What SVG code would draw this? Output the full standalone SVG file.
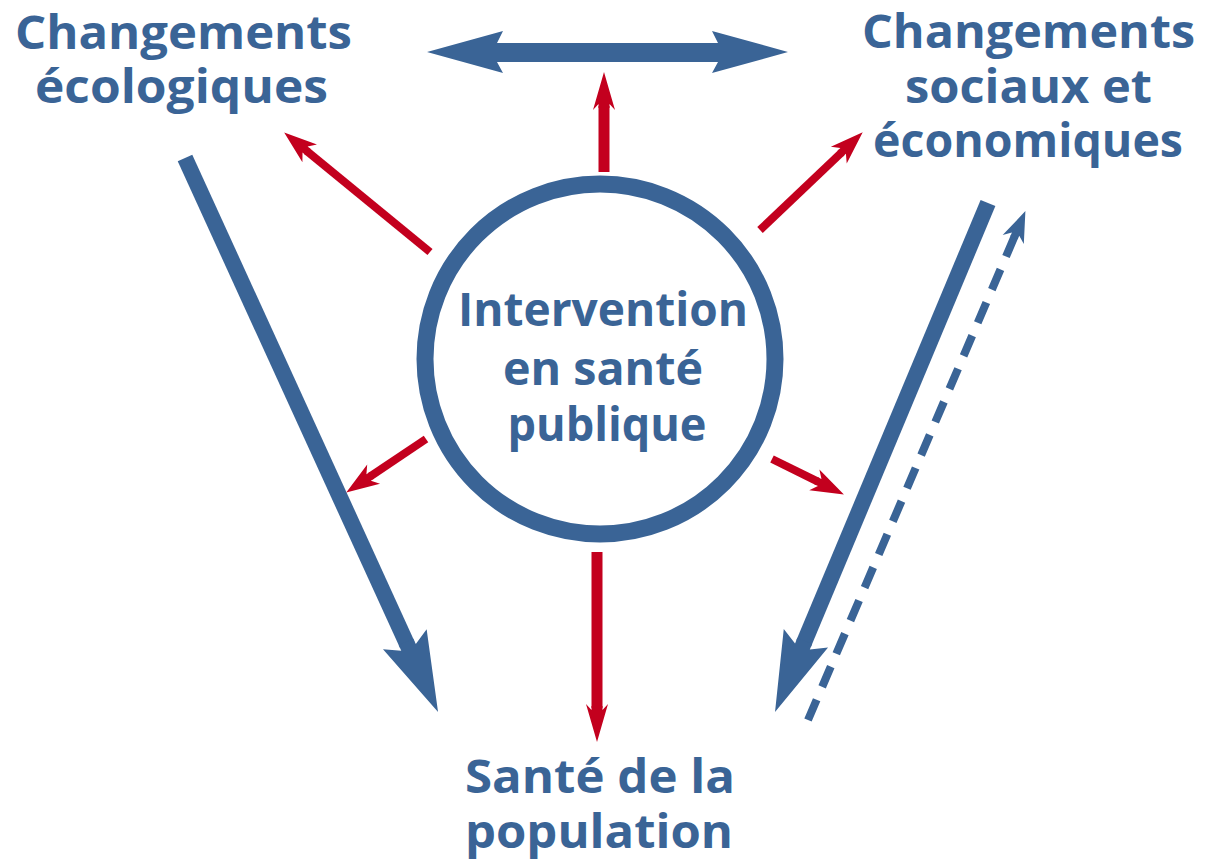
<svg xmlns="http://www.w3.org/2000/svg" width="1217" height="867" viewBox="0 0 1217 867">
  <style>
    .lbl { font-family: "Open Sans", "Noto Sans", "Liberation Sans", sans-serif; font-weight: 700; font-size: 46px; fill: #3A6496; text-anchor: middle; }
    .red { stroke: #C3001E; fill: none; stroke-linecap: butt; }
    .blue { stroke: #3A6496; fill: none; stroke-linecap: butt; }
  </style>
  <defs>
    <marker id="rh" markerUnits="userSpaceOnUse" markerWidth="60" markerHeight="40" viewBox="-10 -20 60 40" refX="0" refY="0" orient="auto">
      <path d="M29,0 L-4,-11.5 L2,-4 L-2,-4 L-2,4 L2,4 L-4,11.5 Z" fill="#C3001E"/>
    </marker>
    <marker id="rh2" markerUnits="userSpaceOnUse" markerWidth="60" markerHeight="40" viewBox="-10 -20 60 40" refX="0" refY="0" orient="auto">
      <path d="M34,0 L-4,-11 L2,-5.5 L-2,-5.5 L-2,5.5 L2,5.5 L-4,11 Z" fill="#C3001E"/>
    </marker>
    <marker id="bh" markerUnits="userSpaceOnUse" markerWidth="100" markerHeight="60" viewBox="-12 -30 100 60" refX="0" refY="0" orient="auto">
      <path d="M74,0 L-6,-24 L3,-8 L-3,-8 L-3,8 L3,8 L-6,24 Z" fill="#3A6496"/>
    </marker>
    <marker id="bh2" markerUnits="userSpaceOnUse" markerWidth="50" markerHeight="40" viewBox="-10 -20 50 40" refX="0" refY="0" orient="auto">
      <path d="M27,0 L-4,-11.5 L2,-4 L-2,-4 L-2,4 L2,4 L-4,11.5 Z" fill="#3A6496"/>
    </marker>
  </defs>

  <g id="node-intervention">
    <circle cx="600" cy="359" r="175" fill="none" stroke="#3A6496" stroke-width="17"/>
    <text class="lbl" x="603" y="326" textLength="290" lengthAdjust="spacingAndGlyphs">Intervention</text>
    <text class="lbl" x="603" y="385" textLength="200" lengthAdjust="spacingAndGlyphs">en santé</text>
    <text class="lbl" x="607" y="441" textLength="199" lengthAdjust="spacingAndGlyphs">publique</text>
  </g>

  <g id="node-ecologiques">
    <text class="lbl" x="183.5" y="49" textLength="337" lengthAdjust="spacingAndGlyphs">Changements</text>
    <text class="lbl" x="181.5" y="103" textLength="293" lengthAdjust="spacingAndGlyphs">écologiques</text>
  </g>

  <g id="node-sociaux">
    <text class="lbl" x="1028.5" y="48" textLength="333" lengthAdjust="spacingAndGlyphs">Changements</text>
    <text class="lbl" x="1028.5" y="103" textLength="247" lengthAdjust="spacingAndGlyphs">sociaux et</text>
    <text class="lbl" x="1028" y="157" textLength="310" lengthAdjust="spacingAndGlyphs">économiques</text>
  </g>

  <g id="node-sante">
    <text class="lbl" x="600" y="793" textLength="270" lengthAdjust="spacingAndGlyphs">Santé de la</text>
    <text class="lbl" x="599" y="848" textLength="268" lengthAdjust="spacingAndGlyphs">population</text>
  </g>

  <g id="connectors">
    <!-- top double arrow -->
    <polygon points="427,52 503,31 497,43 718,43 712,31 788,52 712,73 718,62 497,62 503,73" fill="#3A6496"/>
    <!-- blue arrows -->
    <line class="blue" x1="185" y1="158" x2="407.3" y2="644.7" stroke-width="16" marker-end="url(#bh)"/>
    <line class="blue" x1="988" y1="203" x2="803.6" y2="643.7" stroke-width="16" marker-end="url(#bh)"/>
    <line class="blue" x1="808" y1="720" x2="1014.8" y2="235.9" stroke-width="8" stroke-dasharray="22 14" marker-end="url(#bh2)"/>
    <!-- red arrows -->
    <line class="red" x1="604" y1="172" x2="604" y2="106" stroke-width="11" marker-end="url(#rh2)"/>
    <line class="red" x1="597" y1="552" x2="597" y2="708" stroke-width="11" marker-end="url(#rh2)"/>
    <line class="red" x1="430" y1="252" x2="306.6" y2="150.8" stroke-width="8" marker-end="url(#rh)"/>
    <line class="red" x1="760" y1="230" x2="841.7" y2="152.3" stroke-width="8" marker-end="url(#rh)"/>
    <line class="red" x1="426" y1="439" x2="370.3" y2="476.4" stroke-width="8" marker-end="url(#rh)"/>
    <line class="red" x1="772" y1="459" x2="817.9" y2="481.6" stroke-width="8" marker-end="url(#rh)"/>
  </g>
</svg>
